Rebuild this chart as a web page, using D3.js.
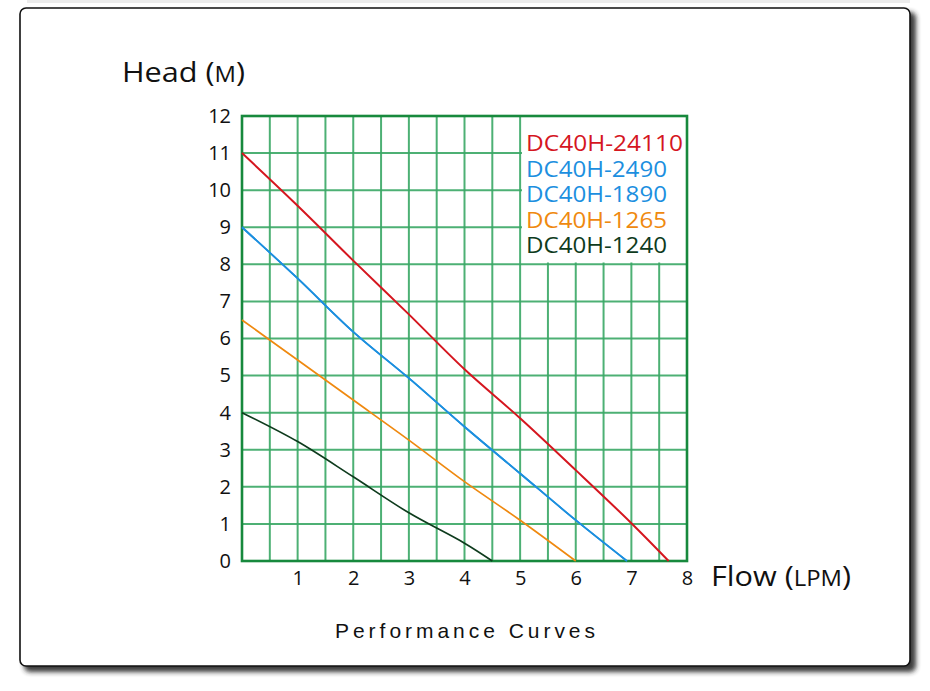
<!DOCTYPE html>
<html><head><meta charset="utf-8">
<script src="https://cdn.jsdelivr.net/npm/d3@7"></script>
<style>
html,body{margin:0;padding:0;background:#fff;}
svg{display:block;}
</style></head>
<body>
<svg id="chart" width="930" height="691"></svg>
<script>
// ---- data ----
const seriesNames = ["DC40H-24110", "DC40H-2490", "DC40H-1890", "DC40H-1265", "DC40H-1240"];
const flow24110 = [0, 1, 2, 3, 4, 5, 6, 7, 7.67];
const head24110 = [11, 9.58, 8.1, 6.65, 5.17, 3.85, 2.45, 1.02, 0];
const flow2490 = [0, 1, 2, 3, 4, 5, 6, 6.92];
const head2490 = [9, 7.62, 6.18, 4.93, 3.62, 2.36, 1.1, 0];
const flow1890 = [0, 1, 2, 3, 4, 5, 6, 6.92];
const head1890 = [9, 7.62, 6.18, 4.93, 3.62, 2.36, 1.1, 0];
const flow1265 = [0, 1, 2, 3, 4, 5, 6];
const head1265 = [6.5, 5.42, 4.34, 3.26, 2.14, 1.1, 0];
const flow1240 = [0, 1, 2, 3, 4, 4.5];
const head1240 = [4, 3.22, 2.27, 1.3, 0.48, 0];
const xTickLabels = [1, 2, 3, 4, 5, 6, 7, 8];
const yTickLabels = [0, 1, 2, 3, 4, 5, 6, 7, 8, 9, 10, 11, 12];
const xGridValues = [0.5, 1, 1.5, 2, 2.5, 3, 3.5, 4, 4.5, 5, 5.5, 6, 6.5, 7, 7.5];
const yGridValues = [1, 2, 3, 4, 5, 6, 7, 8, 9, 10, 11];

// ---- styles ----
const seriesColors = ["#d5161f", "#1c8fdf", "#1c8fdf", "#ef890f", "#0e3b1d"];
const seriesWidths = [2, 1.7, 1.7, 1.7, 1.7];

const series = seriesNames.map((name, i) => {
  const f = [flow24110, flow2490, flow1890, flow1265, flow1240][i];
  const h = [head24110, head2490, head1890, head1265, head1240][i];
  return { name, color: seriesColors[i], width: seriesWidths[i], pts: f.map((v, j) => [v, h[j]]) };
});

const svg = d3.select("#chart");
const x = d3.scaleLinear().domain([0, 8]).range([242, 687]);
const y = d3.scaleLinear().domain([0, 12]).range([561, 116]);

// frame with shadow
const defs = svg.append("defs");
const flt = defs.append("filter").attr("id", "sh").attr("x", "-5%").attr("y", "-5%").attr("width", "115%").attr("height", "115%");
flt.append("feGaussianBlur").attr("stdDeviation", 2.5);

svg.append("rect").attr("x", 27).attr("y", 0).attr("width", 883).attr("height", 3).attr("fill", "#ececec");
svg.append("rect").attr("x", 24).attr("y", 12).attr("width", 892).attr("height", 660)
  .attr("rx", 6).attr("fill", "#2a2a2a").attr("opacity", 0.92).attr("filter", "url(#sh)");
svg.append("rect").attr("x", 20).attr("y", 8).attr("width", 890).attr("height", 658)
  .attr("rx", 6).attr("fill", "#fff").attr("stroke", "#111").attr("stroke-width", 1.6);

// grid
const g = svg.append("g");
g.selectAll("line.vx").data(xGridValues).join("line")
  .attr("x1", d => x(d)).attr("x2", d => x(d)).attr("y1", y(12)).attr("y2", y(0))
  .attr("stroke", "#3aa866").attr("stroke-width", 2).attr("opacity", 0.9);
g.selectAll("line.hy").data(yGridValues).join("line")
  .attr("y1", d => y(d)).attr("y2", d => y(d)).attr("x1", x(0)).attr("x2", x(8))
  .attr("stroke", "#3aa866").attr("stroke-width", 2).attr("opacity", 0.9);

// legend background box (covers grid)
g.append("rect").attr("x", 522).attr("y", y(12)).attr("width", x(8) - 522).attr("height", y(8.05) - y(12))
  .attr("fill", "#fff");

g.append("rect").attr("x", x(0)).attr("y", y(12)).attr("width", x(8) - x(0)).attr("height", y(0) - y(12))
  .attr("fill", "none").attr("stroke", "#17893d").attr("stroke-width", 2.6);

// axes
const fontMain = "'Open Sans', 'Noto Sans', sans-serif";
const xa = svg.append("g").attr("transform", `translate(0,${y(0)})`)
  .call(d3.axisBottom(x).tickValues(xTickLabels).tickSize(0).tickPadding(10).tickFormat(d3.format("d")));
const ya = svg.append("g").attr("transform", `translate(${x(0)},0)`)
  .call(d3.axisLeft(y).tickValues(yTickLabels).tickSize(0).tickPadding(11).tickFormat(d3.format("d")));
[xa, ya].forEach(a => {
  a.select(".domain").remove();
  a.selectAll("text").attr("font-family", fontMain).attr("font-size", 20).attr("fill", "#111");
});

// lines
const line = d3.line().x(d => x(d[0])).y(d => y(d[1])).curve(d3.curveCatmullRom.alpha(0.5));
svg.append("g").selectAll("path").data(series.slice().reverse()).join("path")
  .attr("d", d => line(d.pts)).attr("fill", "none")
  .attr("stroke", d => d.color).attr("stroke-width", d => d.width);

// legend
const lg = svg.append("g");
lg.selectAll("text").data(series).join("text")
  .attr("x", 526).attr("y", (d, i) => 151 + i * 25.6)
  .attr("font-family", fontMain).attr("font-size", 21)
  .attr("fill", d => d.color)
  .attr("textLength", (d, i) => i === 0 ? 157 : 141).attr("lengthAdjust", "spacingAndGlyphs")
  .text(d => d.name);

// axis titles
const ht = svg.append("text").attr("x", 122).attr("y", 82)
  .attr("font-family", fontMain).attr("font-size", 27).attr("fill", "#111")
  .attr("textLength", 123).attr("lengthAdjust", "spacingAndGlyphs");
ht.append("tspan").text("Head (");
ht.append("tspan").attr("font-size", 21).text("M");
ht.append("tspan").text(")");

const ft = svg.append("text").attr("x", 711).attr("y", 586)
  .attr("font-family", fontMain).attr("font-size", 27).attr("fill", "#111")
  .attr("textLength", 140).attr("lengthAdjust", "spacingAndGlyphs");
ft.append("tspan").text("Flow (");
ft.append("tspan").attr("font-size", 21).text("LPM");
ft.append("tspan").text(")");

svg.append("text").attr("x", 335).attr("y", 638)
  .attr("font-family", "'Liberation Sans', Arial, sans-serif").attr("font-size", 21).attr("fill", "#111")
  .attr("textLength", 260).attr("lengthAdjust", "spacing")
  .text("Performance Curves");
</script>
</body></html>
